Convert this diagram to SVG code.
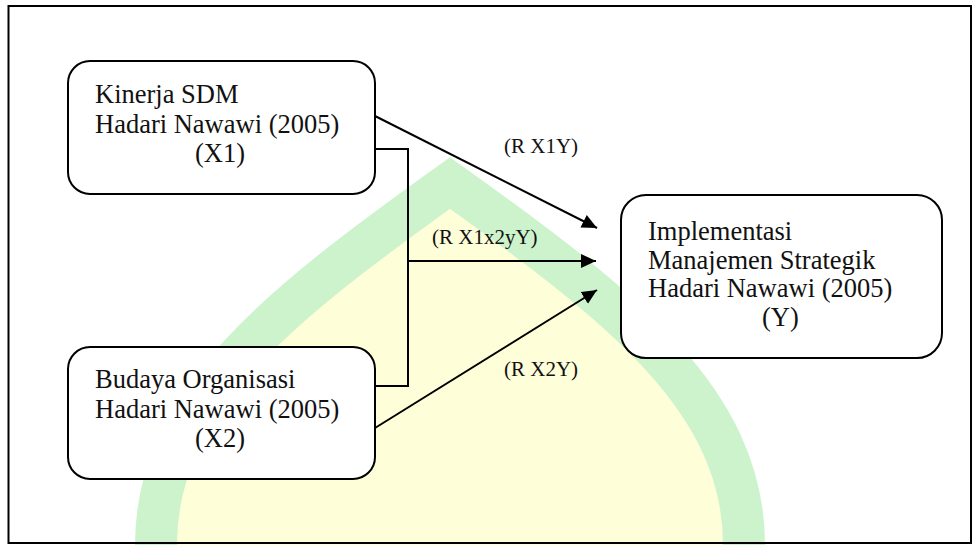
<svg xmlns="http://www.w3.org/2000/svg" width="972" height="545" viewBox="0 0 972 545">
  <style>
    .node { fill: #ffffff; stroke: #000000; stroke-width: 2; }
    .conn { fill: none; stroke: #000000; stroke-width: 2; }
    .t { font-family: "Liberation Serif", "Times New Roman", serif; font-size: 26.5px; fill: #111111; }
    .lbl { font-family: "Liberation Serif", "Times New Roman", serif; font-size: 21px; fill: #111111; }
  </style>
  <defs>
    <marker id="arrow" viewBox="0 0 15 14" refX="15" refY="7" markerWidth="15" markerHeight="14" markerUnits="userSpaceOnUse" orient="auto">
      <path d="M0,0 L15,7 L0,14 Z" fill="#000000"/>
    </marker>
  </defs>
  <rect x="0" y="0" width="972" height="545" fill="#ffffff"/>
  <g id="watermark">
    <path d="M156,600 L156,545 C156,400 280,305 450,183 C620,305 744,400 744,545 L744,600 Z" fill="#fefed9" stroke="#cdf3cd" stroke-width="42" stroke-linejoin="miter" stroke-miterlimit="10"/>
  </g>
  <g id="frame">
    <path d="M8.5,6 L971,6 M8.5,5 L8.5,543.5 M7.5,543 L972,543 M971,5 L971,543.5" fill="none" stroke="#000000" stroke-width="2"/>
  </g>
  <g id="connectors">
    <line class="conn" x1="375" y1="116" x2="597" y2="228" marker-end="url(#arrow)"/>
    <polyline class="conn" points="375,149 408,149 408,386 375,386"/>
    <line class="conn" x1="408" y1="261" x2="596" y2="261" marker-end="url(#arrow)"/>
    <line class="conn" x1="375" y1="428" x2="597" y2="290" marker-end="url(#arrow)"/>
    <text class="lbl" x="504" y="153">(R X1Y)</text>
    <text class="lbl" x="432" y="244">(R X1x2yY)</text>
    <text class="lbl" x="504" y="376">(R X2Y)</text>
  </g>
  <g id="node-x1">
    <rect class="node" x="68" y="61" width="307" height="133" rx="22" ry="22"/>
    <text class="t" x="95" y="103">Kinerja SDM</text>
    <text class="t" x="95" y="132.5">Hadari Nawawi (2005)</text>
    <text class="t" x="195" y="162">(X1)</text>
  </g>
  <g id="node-x2">
    <rect class="node" x="68" y="347" width="307" height="132" rx="22" ry="22"/>
    <text class="t" x="95" y="388">Budaya Organisasi</text>
    <text class="t" x="95" y="418">Hadari Nawawi (2005)</text>
    <text class="t" x="195" y="447">(X2)</text>
  </g>
  <g id="node-y">
    <rect class="node" x="621" y="195" width="321" height="163" rx="25" ry="25"/>
    <text class="t" x="648" y="240">Implementasi</text>
    <text class="t" x="648" y="268.5">Manajemen Strategik</text>
    <text class="t" x="648" y="297">Hadari Nawawi (2005)</text>
    <text class="t" x="762" y="326">(Y)</text>
  </g>
</svg>
